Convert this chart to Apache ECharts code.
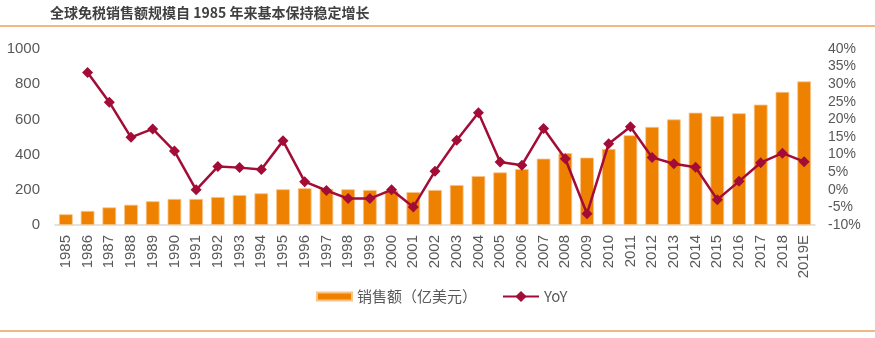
<!DOCTYPE html>
<html>
<head>
<meta charset="utf-8">
<script src="https://cdn.jsdelivr.net/npm/echarts@6/dist/echarts.min.js"></script>
<style>
html,body{margin:0;padding:0;background:#fff;}
#c{width:875px;height:338px;}
</style>
</head>
<body>
<div id="c"></div>
<script>
const categories = ['1985','1986','1987','1988','1989','1990','1991','1992','1993','1994','1995','1996','1997','1998','1999','2000','2001','2002','2003','2004','2005','2006','2007','2008','2009','2010','2011','2012','2013','2014','2015','2016','2017','2018','2019E'];
const sales = [61,80,100,115,135,148,148,159,170,180,203,209,205,203,199,195,187,199,227,278,299,318,377,409,383,432,510,557,600,638,619,635,684,756,816];
const yoy = [null,33.3,24.9,14.9,17.3,11.0,0.0,6.6,6.3,5.8,13.9,2.3,-0.2,-2.5,-2.5,0.0,-4.9,5.3,14.1,21.9,7.9,7.0,17.4,8.8,-6.8,13.1,17.9,9.2,7.4,6.4,-2.8,2.4,7.7,10.4,8.0];
const leftTicks = [0,200,400,600,800,1000];
const rightTicks = [-10,-5,0,5,10,15,20,25,30,35,40];
const titleText = '全球免税销售额规模自 1985 年来基本保持稳定增长';
const barName = '销售额（亿美元）';
const lineName = 'YoY';

const chart = echarts.init(document.getElementById('c'));
const font = 'Arial, "Liberation Sans", "Noto Sans CJK SC", sans-serif';
const legendText = {fontSize: 15, color:'#595959', fontFamily:'"Noto Sans CJK SC", Arial, sans-serif'};
chart.setOption({
  animation: false,
  textStyle: {fontFamily: font},
  graphic: [
    {type:'text', left:50, top:6, style:{text:titleText, fontSize:14, fontWeight:'bold', fill:'#404040', fontFamily:'"Noto Sans CJK SC", sans-serif'}},
    {type:'line', shape:{x1:0,y1:26,x2:875,y2:26}, style:{stroke:'#F0A050', lineWidth:1.5}},
    {type:'line', shape:{x1:0,y1:331,x2:875,y2:331}, style:{stroke:'#E8A060', lineWidth:1.5}}
  ],
  legend: [
    {left: 311, top: 284, itemWidth: 35, itemHeight: 8,
     textStyle: legendText, data: [{name: barName, icon:'rect'}]},
    {left: 497, top: 284, itemWidth: 36, itemHeight: 14,
     textStyle: legendText, data: [{name: lineName}]}
  ],
  grid: {left:55, right:60, top:49, bottom:113, containLabel:false},
  xAxis: {
    type:'category', data: categories,
    axisLine:{lineStyle:{color:'#D9D9D9', width:1.5}},
    axisTick:{show:false},
    axisLabel:{rotate:90, fontSize:15, color:'#595959', margin:10, interval:0}
  },
  yAxis: [
    {type:'value', min:0, max:1000, interval:200,
     axisLabel:{fontSize:15, color:'#595959', margin:15, formatter: v => String(v)},
     splitLine:{show:false}, axisLine:{show:false}, axisTick:{show:false}},
    {type:'value', min:-10, max:40, interval:5,
     axisLabel:{fontSize:14, color:'#595959', margin:13, formatter: v => v + '%'},
     splitLine:{show:false}, axisLine:{show:false}, axisTick:{show:false}}
  ],
  series: [
    {name: barName, type:'bar', data: sales, yAxisIndex:0, barCategoryGap:'37%',
     itemStyle:{color:'#EE8200', borderColor:'#F7C48A', borderWidth:0.8}},
    {name: lineName, type:'line', data: yoy, yAxisIndex:1,
     symbol:'diamond', symbolSize:11, connectNulls:false,
     lineStyle:{color:'#A20C36', width:2.5},
     itemStyle:{color:'#A20C36'}}
  ]
});
</script>
</body>
</html>
